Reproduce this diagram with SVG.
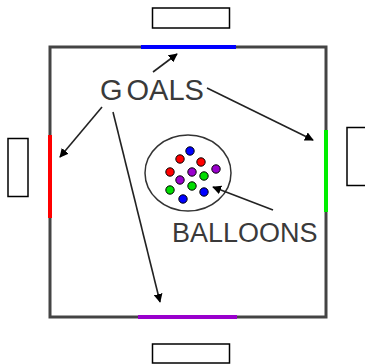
<svg xmlns="http://www.w3.org/2000/svg" width="365" height="364" viewBox="0 0 365 364">
<style>
.box{fill:#fff;stroke:#000;stroke-width:1.5}
.lbl{font-family:"Liberation Sans",Arial,sans-serif;fill:#3a3a3a}
.arr{fill:none;stroke:#222;stroke-width:1.6;marker-end:url(#ah)}
.b{stroke:#000;stroke-width:1}
</style>
<defs>
<marker id="ah" viewBox="0 0 10 10" refX="9" refY="5" markerWidth="9" markerHeight="9" orient="auto" markerUnits="userSpaceOnUse">
<path d="M0,0 L10,5 L0,10 z" fill="#000"/>
</marker>
</defs>
<rect width="365" height="364" fill="#fff"/>
<g id="field">
<rect x="50" y="47" width="276" height="270" fill="none" stroke="#444" stroke-width="3"/>
</g>
<g id="goal-top"><line x1="141" y1="47" x2="236" y2="47" stroke="#0000ff" stroke-width="4"/></g>
<g id="goal-left"><line x1="50" y1="135" x2="50" y2="218" stroke="#ff0000" stroke-width="4"/></g>
<g id="goal-right"><line x1="326" y1="130" x2="326" y2="212" stroke="#00ee00" stroke-width="4"/></g>
<g id="goal-bottom"><line x1="138" y1="317" x2="237" y2="317" stroke="#9900cc" stroke-width="4"/></g>
<g id="box-top"><rect class="box" x="152.5" y="8" width="77" height="20"/></g>
<g id="box-left"><rect class="box" x="8" y="138.5" width="20" height="58"/></g>
<g id="box-right"><rect class="box" x="347" y="127.5" width="22" height="58"/></g>
<g id="box-bottom"><rect class="box" x="152.5" y="344" width="77" height="19"/></g>
<g id="goals-label"><text class="lbl" x="100" y="100" font-size="29">G<tspan dx="4">OALS</tspan></text></g>
<g id="balloons">
<ellipse cx="188" cy="173" rx="43" ry="38" fill="none" stroke="#333" stroke-width="1.5"/>
<circle class="b" cx="190" cy="151" r="4.2" fill="#0000ff"/>
<circle class="b" cx="180" cy="159" r="4.2" fill="#ff0000"/>
<circle class="b" cx="201" cy="162" r="4.2" fill="#ff0000"/>
<circle class="b" cx="170" cy="172" r="4.2" fill="#ff0000"/>
<circle class="b" cx="192" cy="172" r="4.2" fill="#9900cc"/>
<circle class="b" cx="204" cy="176" r="4.2" fill="#00dd00"/>
<circle class="b" cx="216" cy="169" r="4.2" fill="#9900cc"/>
<circle class="b" cx="180" cy="180" r="4.2" fill="#9900cc"/>
<circle class="b" cx="170" cy="190" r="4.2" fill="#00dd00"/>
<circle class="b" cx="192" cy="186" r="4.2" fill="#00dd00"/>
<circle class="b" cx="204" cy="192" r="4.2" fill="#0000ff"/>
<circle class="b" cx="183" cy="199" r="4.2" fill="#0000ff"/>
</g>
<g id="balloons-label"><text class="lbl" x="172" y="242" font-size="27">BALLOONS</text></g>
<g id="connectors">
<line class="arr" x1="153" y1="72" x2="177" y2="54"/>
<line class="arr" x1="207" y1="88" x2="313" y2="140"/>
<line class="arr" x1="102" y1="107" x2="60" y2="157"/>
<line class="arr" x1="113" y1="112" x2="160" y2="302"/>
<line class="arr" x1="273" y1="210" x2="213" y2="187"/>
</g>
</svg>
